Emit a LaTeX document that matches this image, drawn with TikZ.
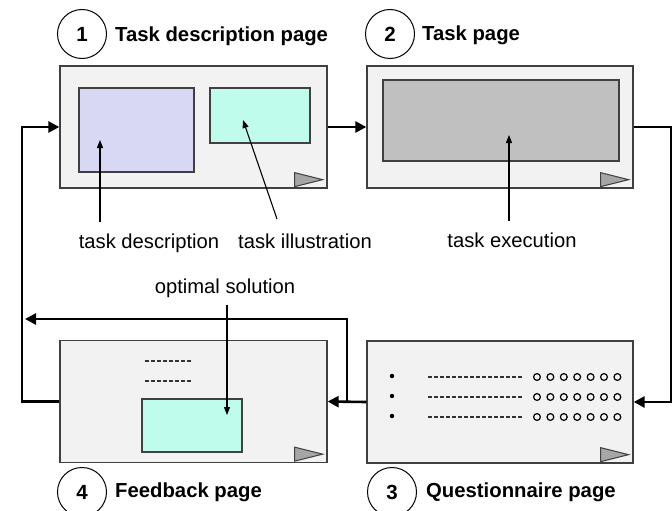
\documentclass[tikz,border=0pt]{standalone}
\usepackage{fontspec}
\setmainfont{Liberation Sans}
\usetikzlibrary{arrows.meta,calc}

\definecolor{pagefill}{HTML}{F2F2F2}
\definecolor{pageedge}{HTML}{404040}
\definecolor{lavender}{HTML}{D8D8F4}
\definecolor{mint}{HTML}{C0FCEC}
\definecolor{panelgrey}{HTML}{C0C0C0}
\definecolor{trigrey}{HTML}{A6A6A6}

\tikzset{
  page/.style={rectangle, draw=pageedge, fill=pagefill, line width=1.3pt,
    minimum width=267pt, minimum height=122pt, inner sep=0pt},
  panel/.style={rectangle, draw=pageedge, line width=1.1pt, inner sep=0pt},
  flow/.style={line width=2.6pt, -{Triangle[length=11pt,width=11pt]}},
  note/.style={line width=1.1pt, -{Triangle[length=8pt,width=6pt]}},
  tri/.style={draw=pageedge, fill=trigrey, line width=1pt, line join=miter},
  badge/.style={circle, draw=black, line width=1pt, minimum size=49pt, inner sep=0pt,
    font=\fontsize{20.5}{24}\selectfont\bfseries},
  title/.style={anchor=base west, inner sep=0pt, font=\fontsize{20.3}{24}\selectfont\bfseries},
  label/.style={anchor=base, inner sep=0pt, font=\fontsize{20.2}{24}\selectfont},
  hyph/.style={line width=2pt, draw=black!80, dash pattern=on 4pt off 2pt},
  radio/.style={line width=1.2pt},
}

% small "next" triangle in the lower right corner of a page
\newcommand\nexttri[1]{%
  \filldraw[tri] ([shift={(-33,-16)}]#1.south east) -- ([shift={(-5,-9)}]#1.south east)
    -- ([shift={(-33,-2)}]#1.south east) -- cycle;}

\begin{document}
\begin{tikzpicture}[x=1pt,y=-1pt]
\useasboundingbox (0,0) rectangle (672,511);

% pages
\node[page] (p1) at (193.5,127) {};
\node[page, minimum width=266pt] (p2) at (500,127) {};
\node[page, minimum width=266pt] (p3) at (500,402) {};
\node[page] (p4) at (193.5,401.5) {};

% page 1 contents
\node[panel, fill=lavender, minimum width=115pt, minimum height=84pt] (descbox) at (136.5,130) {};
\node[panel, fill=mint, minimum width=100pt, minimum height=55pt] (illbox) at (260,115.5) {};
\nexttri{p1}

% page 2 contents
\node[panel, fill=panelgrey, minimum width=236pt, minimum height=81pt] (execbox) at (501,120.5) {};
\nexttri{p2}

% page 3 contents: questionnaire rows
\foreach \yy in {377,397,417} {
  \fill (392,\yy-1) circle (2.2pt);
  \draw[hyph] (428,\yy) -- (522,\yy);
  \foreach \k in {0,...,6}
    \draw[radio] (537+13.4*\k,\yy) circle (3.4pt);
}
\nexttri{p3}

% page 4 contents
\draw[hyph] (145,361) -- (191,361);
\draw[hyph] (145,381) -- (191,381);
\node[panel, fill=mint, minimum width=100pt, minimum height=53pt] (solbox) at (192,425.5) {};
\nexttri{p4}

% badges and titles
\node[badge] (c1) at (82,34) {1};
\node[title] (t1) at (115,42) {Task description page};
\node[badge] (c2) at (390,34) {2};
\node[title] (t2) at (422,41) {Task page};
\node[badge] (c3) at (392,492) {3};
\node[title] (t3) at (426,497) {Questionnaire page};
\node[badge] (c4) at (82,492) {4};
\node[title] (t4) at (115,497) {Feedback page};

% element labels
\node[label] (ltd) at (149,248) {task description};
\node[label] (lti) at (305,248) {task illustration};
\node[label] (lte) at (512,247) {task execution};
\node[label] (los) at (225,293) {optimal solution};

% label pointers
\coordinate (tdA) at (100,222);  \coordinate (tdB) at (100,140);
\coordinate (tiA) at (277,219);  \coordinate (tiB) at (243,120);
\coordinate (teA) at (509,221);  \coordinate (teB) at (509,135);
\coordinate (osA) at (227,305);  \coordinate (osB) at (227,415);
\draw[note] (tdA) -- (tdB);
\draw[note] (tiA) -- (tiB);
\draw[note] (teA) -- (teB);
\draw[note] (osA) -- (osB);

% page flow
\coordinate (rightrail) at (671.5,260);
\coordinate (leftrail) at (22,260);
\coordinate (split) at (347,402);
\coordinate (back) at (25,319);
\draw[flow] (p1.east) -- (p2.west);
\draw[flow] (p2.east) -| (rightrail) |- (p3.east);
\draw[flow] (p3.west) -- (p4.east);
\draw[flow] (split) |- (back);
\draw[flow] (p4.west) -| (leftrail) |- (p1.west);
\end{tikzpicture}
\end{document}
